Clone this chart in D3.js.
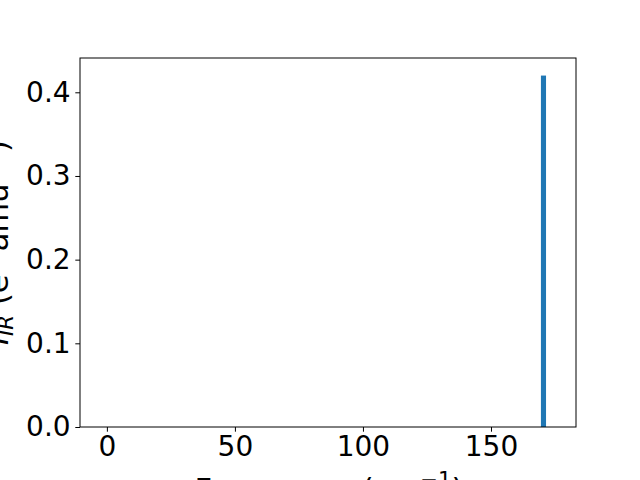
<!DOCTYPE html>
<meta charset="utf-8">
<head>
    <script src="https://d3js.org/d3.v7.min.js"></script>
    <style>
        body { margin: 0; background: #fff; }
        text { font-family: "DejaVu Sans", sans-serif; }
    </style>
</head>
<body>
<div id="chart"></div>
</body>
<script type="text/javascript">

    // IR spectrum: one mode
    var frequencies = [170.5];
    var intensities = [0.42];
    var barWidth = 2;
    var xTicks = [0, 50, 100, 150];
    var yTicks = [0.0, 0.1, 0.2, 0.3, 0.4];

    var W = 640, H = 480;
    var plotL = 80, plotR = 576, plotT = 58, plotB = 427;
    var fs = 28;      // tick labels
    var lfs = 30.5;   // axis labels

    var svg = d3.select("#chart").append("svg")
        .attr("width", W).attr("height", H);

    var x = d3.scaleLinear().domain([-10.5, 183.2]).range([plotL, plotR]);
    var y = d3.scaleLinear().domain([0, 0.441]).range([plotB, plotT]);

    // bars
    svg.selectAll("rect.bar")
        .data(frequencies)
        .enter().append("rect")
        .attr("class", "bar")
        .attr("x", function (d) { return x(d - barWidth / 2); })
        .attr("width", function (d) { return x(d + barWidth / 2) - x(d - barWidth / 2); })
        .attr("y", function (d, i) { return y(intensities[i]); })
        .attr("height", function (d, i) { return y(0) - y(intensities[i]); })
        .attr("fill", "#1f77b4");

    // axes
    var xAxis = d3.axisBottom(x).tickValues(xTicks).tickSize(4.7).tickPadding(4.7)
        .tickFormat(d3.format("d"));
    var yAxis = d3.axisLeft(y).tickValues(yTicks).tickSize(4.7).tickPadding(4.7)
        .tickFormat(d3.format(".1f"));

    var gx = svg.append("g").attr("transform", "translate(0," + plotB + ")").call(xAxis);
    var gy = svg.append("g").attr("transform", "translate(" + plotL + ",0)").call(yAxis);
    [gx, gy].forEach(function (g) {
        g.select(".domain").remove();
        g.selectAll(".tick line").attr("stroke", "#000").attr("stroke-width", 1);
        g.selectAll(".tick text").attr("fill", "#000").style("font-size", fs + "px");
    });

    // frame
    svg.append("rect")
        .attr("x", plotL).attr("y", plotT)
        .attr("width", plotR - plotL).attr("height", plotB - plotT)
        .attr("fill", "none").attr("stroke", "#000").attr("stroke-width", 1);

    // x label
    var xl = svg.append("text")
        .attr("x", 329).attr("y", 500)
        .attr("text-anchor", "middle")
        .style("font-size", lfs + "px");
    xl.append("tspan").text("Frequency (cm");
    xl.append("tspan").attr("dy", -13).style("font-size", (lfs * 0.7) + "px").text("\u22121");
    xl.append("tspan").attr("dy", 13).text(")");

    // y label
    var yl = svg.append("text")
        .attr("transform", "translate(8," + ((plotT + plotB) / 2) + ") rotate(-90)")
        .attr("text-anchor", "middle")
        .style("font-size", lfs + "px");
    yl.append("tspan").style("font-style", "italic").text("I");
    yl.append("tspan").attr("dy", 5).style("font-style", "italic")
        .style("font-size", (lfs * 0.7) + "px").text("IR");
    yl.append("tspan").attr("dy", -5).text(" (e");
    yl.append("tspan").attr("dy", -13).style("font-size", (lfs * 0.7) + "px").text("2");
    yl.append("tspan").attr("dy", 13).text(" amu");
    yl.append("tspan").attr("dy", -13).style("font-size", (lfs * 0.7) + "px").text("\u22121");
    yl.append("tspan").attr("dy", 13).text(")");

</script>
</html>
